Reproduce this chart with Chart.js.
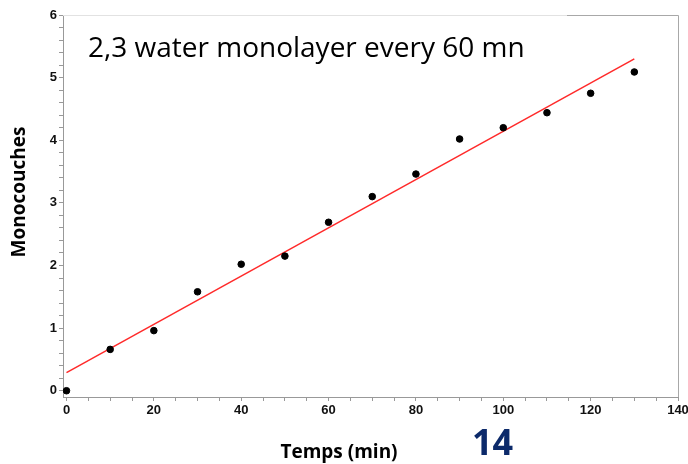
<!DOCTYPE html>
<html>
<head>
<meta charset="utf-8">
<title>Monocouches vs temps</title>
<script src="https://cdn.jsdelivr.net/npm/chart.js@4/dist/chart.umd.min.js"></script>
<style>
  html, body { margin: 0; padding: 0; background: #fff; }
  #wrap { position: relative; width: 688px; height: 464px; }
</style>
</head>
<body>
<div id="wrap"><canvas id="chart" width="688" height="464"></canvas></div>
<script>
// ── Data ───────────────────────────────────────────────────────────
const timeMin = [0, 10, 20, 30, 40, 50, 60, 70, 80, 90, 100, 110, 120, 130];
const monolayers = [0, 0.66, 0.96, 1.58, 2.02, 2.15, 2.69, 3.10, 3.46, 4.02, 4.20, 4.44, 4.75, 5.09];

// linear fit, drawn from its two end points
const fitX = [0, 130];
const fitY = [0.29, 5.30];

// labelled ticks
const xLabelTicks = [0, 20, 40, 60, 80, 100, 120, 140];
const yLabelTicks = [0, 1, 2, 3, 4, 5, 6];

const X_MIN = -0.8, X_MAX = 140, X_MINOR = 5;
const Y_MIN = -0.1, Y_MAX = 6, Y_MINOR = 0.2;

// ── Tick lists (minor + major) ─────────────────────────────────────
function tickList(from, to, step) {
  const out = [];
  for (let k = 0; k * step <= to + 1e-9; k++) {
    const v = Math.round(k * step * 1000) / 1000;
    if (v >= from) out.push({ value: v });
  }
  return out;
}

const axisColor = '#999';
const tickFont = { family: 'Liberation Sans', size: 13, weight: 'bold' };

// ── Extra text + frame ─────────────────────────────────────────────
const decorPlugin = {
  id: 'decor',
  afterDraw(chart) {
    const ctx = chart.ctx;
    const a = chart.chartArea;
    ctx.save();

    // top and right frame (top partly washed out under the text box)
    ctx.lineWidth = 1;
    ctx.strokeStyle = '#e2e2e2';
    ctx.beginPath();
    ctx.moveTo(a.left, a.top + 0.5);
    ctx.lineTo(567, a.top + 0.5);
    ctx.stroke();
    ctx.strokeStyle = '#a8a8a8';
    ctx.beginPath();
    ctx.moveTo(567, a.top + 0.5);
    ctx.lineTo(a.right + 0.5, a.top + 0.5);
    ctx.lineTo(a.right + 0.5, a.bottom);
    ctx.stroke();

    // annotation
    ctx.fillStyle = '#000';
    ctx.font = '28px "Open Sans"';
    ctx.textAlign = 'left';
    ctx.textBaseline = 'alphabetic';
    ctx.fillText('2,3 water monolayer every 60 mn', 88, 57);

    // axis titles
    ctx.font = 'bold 19px "Open Sans"';
    ctx.textAlign = 'center';
    ctx.textBaseline = 'middle';
    ctx.fillText('Temps (min)', 339, 453);

    ctx.save();
    ctx.translate(20, 192);
    ctx.rotate(-Math.PI / 2);
    ctx.fillText('Monocouches', 0, 0);
    ctx.restore();

    // slide number
    ctx.fillStyle = '#0c2a6a';
    ctx.font = 'bold 36px "Open Sans"';
    ctx.textAlign = 'left';
    ctx.textBaseline = 'alphabetic';
    ctx.fillText('14', 472, 455);

    ctx.restore();
  }
};

// ── Chart ──────────────────────────────────────────────────────────
const chart = new Chart(document.getElementById('chart'), {
  type: 'scatter',
  data: {
    datasets: [
      {
        label: 'Monocouches',
        data: timeMin.map(function (t, i) { return { x: t, y: monolayers[i] }; }),
        backgroundColor: '#000',
        borderColor: '#000',
        pointRadius: 3.3,
        pointHoverRadius: 3.3,
        order: 1,
      },
      {
        label: 'Fit',
        type: 'line',
        data: fitX.map(function (t, i) { return { x: t, y: fitY[i] }; }),
        borderColor: '#ff2a2a',
        borderWidth: 1.5,
        pointRadius: 0,
        fill: false,
        order: 2,
      },
    ],
  },
  options: {
    responsive: false,
    animation: false,
    layout: { padding: { left: 0, top: 15, right: 10, bottom: 0 } },
    plugins: {
      legend: { display: false },
      tooltip: { enabled: false },
    },
    scales: {
      x: {
        type: 'linear',
        min: X_MIN,
        max: X_MAX,
        afterBuildTicks: function (s) { s.ticks = tickList(0, X_MAX, X_MINOR); },
        afterFit: function (s) { s.height = 67; s.paddingLeft = 0; s.paddingRight = 10; },
        ticks: {
          autoSkip: false,
          maxRotation: 0,
          padding: 2,
          color: '#111',
          font: tickFont,
          callback: function (v) { return xLabelTicks.includes(v) ? String(v) : ''; },
        },
        grid: { drawOnChartArea: false, tickLength: 4, tickColor: axisColor },
        border: { color: axisColor, width: 1 },
      },
      y: {
        type: 'linear',
        min: Y_MIN,
        max: Y_MAX,
        afterBuildTicks: function (s) { s.ticks = tickList(0, Y_MAX, Y_MINOR); },
        afterFit: function (s) { s.width = 63; },
        ticks: {
          autoSkip: false,
          padding: 2,
          color: '#111',
          font: tickFont,
          callback: function (v) { return yLabelTicks.includes(v) ? String(v) : ''; },
        },
        grid: { drawOnChartArea: false, tickLength: 4, tickColor: axisColor },
        border: { color: axisColor, width: 1 },
      },
    },
  },
  plugins: [decorPlugin],
});
</script>
</body>
</html>
